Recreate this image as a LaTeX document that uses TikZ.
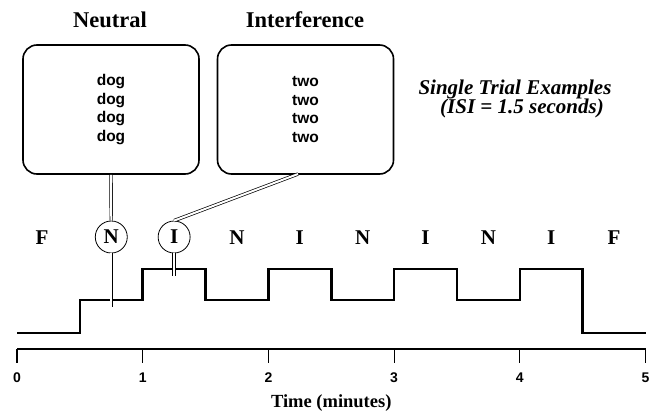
\documentclass[tikz,border=0pt]{standalone}
\usepackage{fontspec}
\setmainfont{Liberation Serif}
\setsansfont{Liberation Sans}
\tikzset{
    stimbox/.style={draw, line width=1.6pt, rounded corners=14pt, minimum width=176pt, minimum height=129pt, align=center, font=\sffamily\bfseries\fontsize{15.5}{18.7}\selectfont},
    title/.style={font=\bfseries\fontsize{22.5}{26}\selectfont},
    trial/.style={font=\bfseries\fontsize{21}{24}\selectfont, inner sep=1pt},
    ring/.style={trial, draw, circle, line width=0.8pt, minimum size=32pt},
    link/.style={draw, double, double distance=2pt, line width=0.7pt},
}
\begin{document}
\begin{tikzpicture}[x=1pt, y=-1pt]
    \useasboundingbox (0,0) rectangle (660,415);
    % Stimulus boxes
    \node[title] (ntitle) at (110,20) {Neutral};
    \node[title] (ititle) at (305,20) {Interference};
    \node[stimbox] (nbox) at (111,109.5) {dog\\dog\\dog\\dog};
    \node[stimbox] (ibox) at (305.5,109.5) {two\\two\\two\\two};
    \node[font=\bfseries\itshape\fontsize{21}{24}\selectfont] (note) at (515,89) {Single Trial Examples};
    \node[font=\bfseries\itshape\fontsize{21}{24}\selectfont] (isi) at (522,108) {(ISI = 1.5 seconds)};

    % Time axis in minutes
    \begin{scope}[shift={(17,0)}, x=125.7pt]
        \draw[line width=1.2pt] (0,349) -- (5,349);
        \foreach \t in {0,...,5} {
            \draw[line width=1.2pt] (\t,349) -- (\t,363);
            \node[font=\sffamily\bfseries\fontsize{14}{16}\selectfont] (tick\t) at (\t,378) {\t};
        }
        \node[font=\bfseries\fontsize{18.5}{22}\selectfont] (xlabel) at (2.5,403) {Time (minutes)};

        % Blocks
        \foreach \t/\l in {0.2/F, 1.75/N, 2.25/I, 2.75/N, 3.25/I, 3.75/N, 4.25/I, 4.75/F} {
            \node[trial] at (\t,238) {\l};
        }
        \node[ring] (cN) at (0.75,237) {N};
        \node[ring] (cI) at (1.25,237) {I};

        % Block sequence
        \draw[line width=2.6pt] (0,333) -| (0.5,300) -| (1,269) -| (1.5,300) -| (2,269) -| (2.5,300)
            -| (3,269) -| (3.5,300) -| (4,269) -| (4.5,333) -- (5,333);

        \coordinate (nend) at (0.75,307);
        \coordinate (iend) at (1.25,276);
    \end{scope}

    % Links from boxes to blocks
    \coordinate (istart) at (298,174);
    \draw[link] (nbox.south) -- (cN.north);
    \draw[link] (cN.south) -- (nend);
    \draw[link] (istart) -- (cI.north);
    \draw[link] (cI.south) -- (iend);
\end{tikzpicture}
\end{document}
